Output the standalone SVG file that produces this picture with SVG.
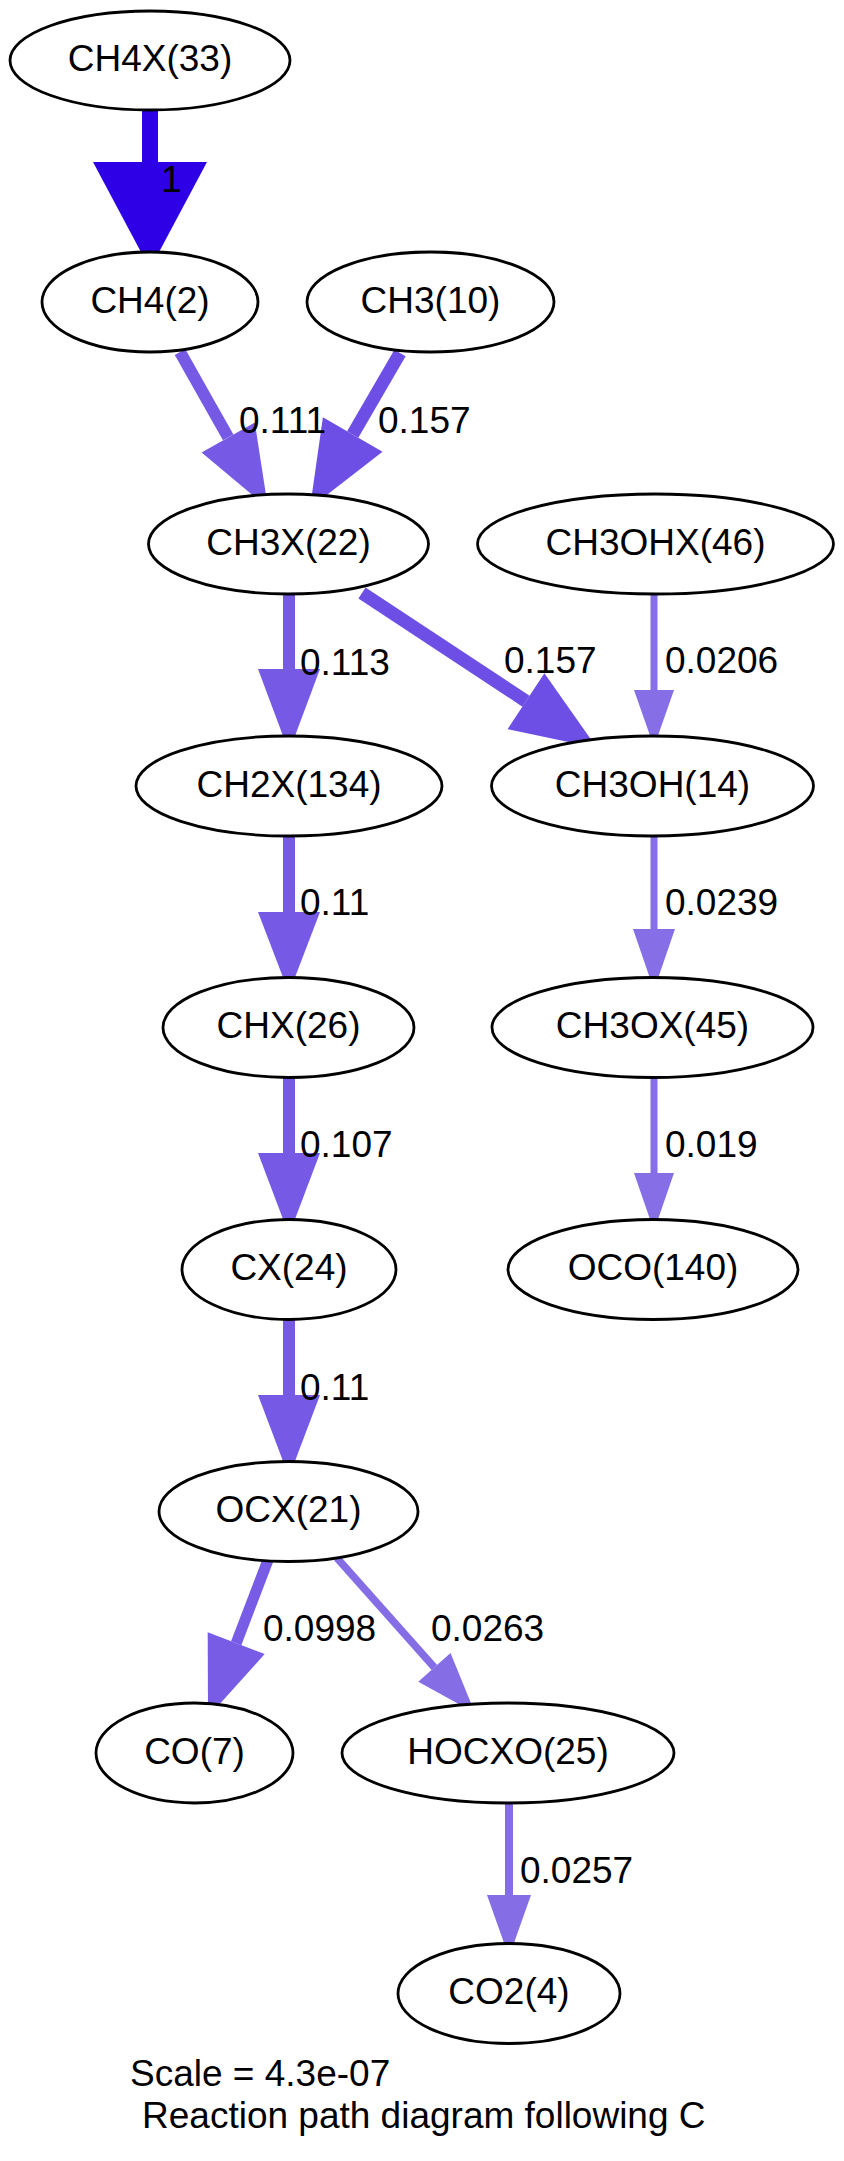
<svg xmlns="http://www.w3.org/2000/svg" width="844" height="2161" viewBox="0 0 844 2161">
<style>
.node ellipse{fill:#ffffff;stroke:#000000;stroke-width:2.8}
.node text{font-family:"Liberation Sans",Arial,Helvetica,sans-serif;font-size:37px;text-anchor:middle;fill:#000000}
.lbl{font-family:"Liberation Sans",Arial,Helvetica,sans-serif;font-size:37px;fill:#000000}
.e line{fill:none}
.c1{stroke:#2e00e6;fill:#2e00e6}
.c157{stroke:#6d4fe6;fill:#6d4fe6}
.c11{stroke:#765ae6;fill:#765ae6}
.c10{stroke:#785ce6;fill:#785ce6}
.c02{stroke:#866ee6;fill:#866ee6}
.c026{stroke:#856de6;fill:#856de6}
polygon{stroke:none}
</style>
<rect x="0" y="0" width="844" height="2161" fill="#ffffff"/>
<g id="edges">
  <g class="e c1"><line x1="150" y1="110" x2="150" y2="163" stroke-width="16"/><polygon points="93,162 207,162 150,269"/></g>
  <g class="e c11"><line x1="180" y1="352" x2="228.2" y2="437.4" stroke-width="12"/><polygon points="254.8,422.4 201.6,452.4 268,508"/></g>
  <g class="e c157"><line x1="400" y1="353" x2="352.7" y2="434.5" stroke-width="13"/><polygon points="382.5,451.8 322.9,417.2 310,508"/></g>
  <g class="e c11"><line x1="289" y1="595" x2="289" y2="670" stroke-width="12"/><polygon points="258,669 320,669 289,752"/></g>
  <g class="e c157"><line x1="362" y1="593" x2="526" y2="701.2" stroke-width="13"/><polygon points="507.6,729.2 544.4,673.2 597,748"/></g>
  <g class="e c02"><line x1="654" y1="595" x2="654" y2="691" stroke-width="7"/><polygon points="634,690 674,690 654,747"/></g>
  <g class="e c02"><line x1="654" y1="837" x2="654" y2="930" stroke-width="7"/><polygon points="633,929 675,929 654,990"/></g>
  <g class="e c02"><line x1="654" y1="1078" x2="654" y2="1174" stroke-width="7"/><polygon points="634,1173 674,1173 654,1231"/></g>
  <g class="e c11"><line x1="289" y1="837" x2="289" y2="913" stroke-width="12"/><polygon points="258,912 320,912 289,993"/></g>
  <g class="e c11"><line x1="289" y1="1078" x2="289" y2="1154" stroke-width="12"/><polygon points="258,1153 320,1153 289,1235"/></g>
  <g class="e c11"><line x1="289" y1="1320" x2="289" y2="1396" stroke-width="12"/><polygon points="258,1395 320,1395 289,1477"/></g>
  <g class="e c10"><line x1="268" y1="1560" x2="236.2" y2="1643.2" stroke-width="11"/><polygon points="264.7,1654.1 207.7,1632.3 208,1717"/></g>
  <g class="e c026"><line x1="337" y1="1558" x2="434.4" y2="1667.4" stroke-width="7.5"/><polygon points="418.3,1681.7 450.5,1653.1 475,1713"/></g>
  <g class="e c026"><line x1="509" y1="1803" x2="509" y2="1896" stroke-width="8"/><polygon points="487,1895 531,1895 509,1957"/></g>
  <text class="lbl" x="161" y="192">1</text>
  <text class="lbl" x="239" y="433">0.111</text>
  <text class="lbl" x="378" y="433">0.157</text>
  <text class="lbl" x="300" y="675">0.113</text>
  <text class="lbl" x="504" y="673">0.157</text>
  <text class="lbl" x="665" y="673">0.0206</text>
  <text class="lbl" x="665" y="915">0.0239</text>
  <text class="lbl" x="665" y="1157">0.019</text>
  <text class="lbl" x="300" y="915">0.11</text>
  <text class="lbl" x="300" y="1157">0.107</text>
  <text class="lbl" x="300" y="1400">0.11</text>
  <text class="lbl" x="263" y="1641">0.0998</text>
  <text class="lbl" x="431" y="1641">0.0263</text>
  <text class="lbl" x="520" y="1883">0.0257</text>
</g>
<g id="CH4X33" class="node"><ellipse cx="150" cy="60.5" rx="140" ry="49.5"/><text x="150" y="71">CH4X(33)</text></g>
<g id="CH4_2" class="node"><ellipse cx="150" cy="302" rx="108" ry="50"/><text x="150" y="312.5">CH4(2)</text></g>
<g id="CH3_10" class="node"><ellipse cx="430.5" cy="302" rx="123.5" ry="50"/><text x="430.5" y="312.5">CH3(10)</text></g>
<g id="CH3X22" class="node"><ellipse cx="288.5" cy="544" rx="140" ry="50"/><text x="288.5" y="554.5">CH3X(22)</text></g>
<g id="CH3OHX46" class="node"><ellipse cx="655.5" cy="544" rx="178" ry="50"/><text x="655.5" y="554.5">CH3OHX(46)</text></g>
<g id="CH2X134" class="node"><ellipse cx="289" cy="786" rx="153" ry="50"/><text x="289" y="796.5">CH2X(134)</text></g>
<g id="CH3OH14" class="node"><ellipse cx="652.5" cy="786" rx="161" ry="50"/><text x="652.5" y="796.5">CH3OH(14)</text></g>
<g id="CHX26" class="node"><ellipse cx="288.5" cy="1027.5" rx="125.5" ry="50"/><text x="288.5" y="1038">CHX(26)</text></g>
<g id="CH3OX45" class="node"><ellipse cx="652.5" cy="1027.5" rx="160.5" ry="50"/><text x="652.5" y="1038">CH3OX(45)</text></g>
<g id="CX24" class="node"><ellipse cx="289" cy="1269.5" rx="107" ry="50"/><text x="289" y="1280">CX(24)</text></g>
<g id="OCO140" class="node"><ellipse cx="653" cy="1269.5" rx="145" ry="50"/><text x="653" y="1280">OCO(140)</text></g>
<g id="OCX21" class="node"><ellipse cx="288.5" cy="1511.5" rx="129.5" ry="50"/><text x="288.5" y="1522">OCX(21)</text></g>
<g id="CO7" class="node"><ellipse cx="194.5" cy="1753" rx="98.5" ry="50"/><text x="194.5" y="1763.5">CO(7)</text></g>
<g id="HOCXO25" class="node"><ellipse cx="508" cy="1753" rx="166" ry="50"/><text x="508" y="1763.5">HOCXO(25)</text></g>
<g id="CO2_4" class="node"><ellipse cx="509" cy="1993.5" rx="111" ry="50"/><text x="509" y="2004">CO2(4)</text></g>
<g id="caption">
  <text class="lbl" x="130" y="2086">Scale = 4.3e-07</text>
  <text class="lbl" x="142" y="2128">Reaction path diagram following C</text>
</g>
</svg>
